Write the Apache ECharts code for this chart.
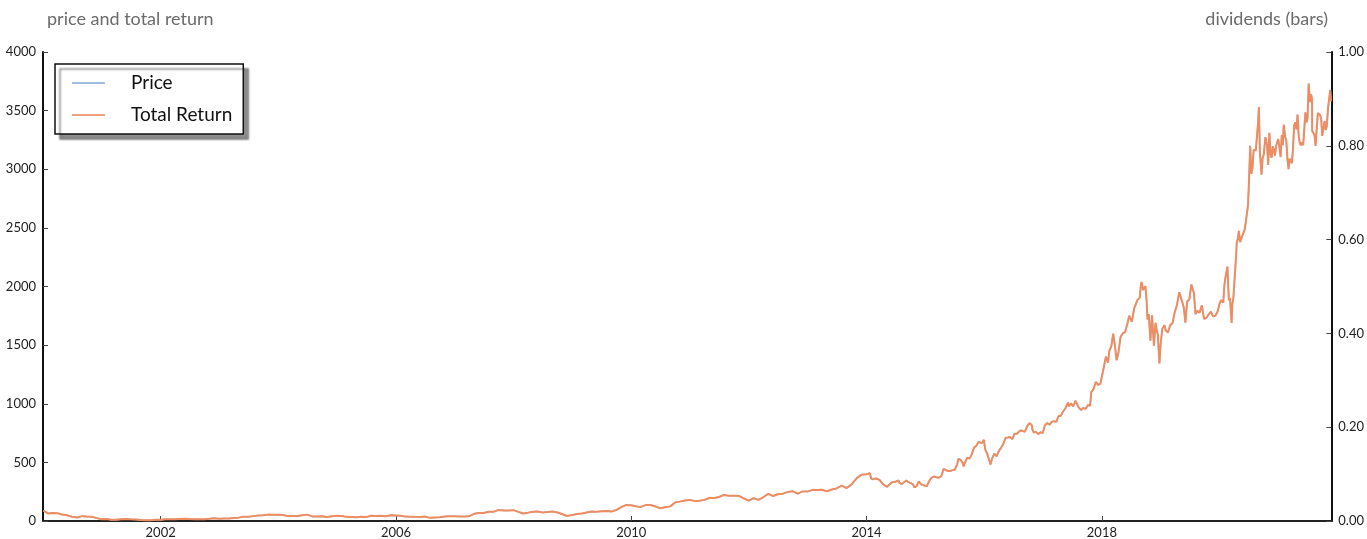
<!DOCTYPE html>
<html>
<head>
<meta charset="utf-8">
<script src="https://cdn.jsdelivr.net/npm/echarts@6/dist/echarts.min.js"></script>
<style>
html,body{margin:0;padding:0;background:#fff;}
#chart{width:1367px;height:539px;}
</style>
</head>
<body>
<div id="chart"></div>
<script>
// ---- Data ----
const seriesNames = ["Price", "Total Return"];
const xTickYears = [2002, 2006, 2010, 2014, 2018];
const leftTicks = [0, 500, 1000, 1500, 2000, 2500, 3000, 3500, 4000];
const rightTicks = [0.00, 0.20, 0.40, 0.60, 0.80, 1.00];
const dividends = []; // no dividend bars are drawn in the reference

const price2000_2006 = [
["2000-01-03",89.4],["2000-01-14",73],["2000-01-31",64.6],["2000-02-29",68.9],["2000-03-10",73],["2000-03-31",67],["2000-04-28",55.2],["2000-05-31",48.3],["2000-06-30",36.3],["2000-07-31",30.1],["2000-08-31",41.5],["2000-09-29",38.4],["2000-10-31",36.6],["2000-11-30",24.7],["2000-12-29",15.6],
["2001-01-31",17.3],["2001-02-28",10.2],["2001-03-30",10.2],["2001-04-30",15.8],["2001-05-31",16.7],["2001-06-29",14.2],["2001-07-31",12.5],["2001-08-31",8.9],["2001-09-28",6.0],["2001-10-31",7.0],["2001-11-30",11.3],["2001-12-31",10.8],
["2002-01-31",14.2],["2002-02-28",14.1],["2002-03-29",14.3],["2002-04-30",16.7],["2002-05-31",18.2],["2002-06-28",16.3],["2002-07-31",14.5],["2002-08-30",14.9],["2002-09-30",15.9],["2002-10-31",19.4],["2002-11-29",23.4],["2002-12-31",18.9],
["2003-01-31",21.9],["2003-02-28",22.0],["2003-03-31",26.0],["2003-04-30",28.7],["2003-05-30",35.9],["2003-06-30",36.3],["2003-07-31",41.6],["2003-08-29",46.3],["2003-09-30",48.4],["2003-10-31",54.4],["2003-11-28",54.0],["2003-12-31",52.6],
["2004-01-30",50.4],["2004-02-27",43.0],["2004-03-31",43.3],["2004-04-30",43.6],["2004-05-28",48.5],["2004-06-30",54.4],["2004-07-30",38.9],["2004-08-31",38.1],["2004-09-30",40.9],["2004-10-29",34.1],["2004-11-30",39.7],["2004-12-31",44.3],
["2005-01-31",43.2],["2005-02-28",35.2],["2005-03-31",34.3],["2005-04-29",32.4],["2005-05-31",35.5],["2005-06-30",33.1],["2005-07-29",45.2],["2005-08-31",42.7],["2005-09-30",45.3],["2005-10-31",39.9],["2005-11-30",48.5],["2005-12-30",47.2],
["2006-01-31",44.8],["2006-02-28",37.4],["2006-03-31",36.5],["2006-04-28",35.2],["2006-05-31",34.6],["2006-06-30",38.7],["2006-07-31",26.9],["2006-08-31",30.8],["2006-09-29",32.1],["2006-10-31",38.1],["2006-11-30",40.3],["2006-12-29",39.5]
];

const price2007_2013 = [
["2007-01-31",37.7],["2007-02-28",39.1],["2007-03-30",39.8],["2007-04-30",61.3],["2007-05-31",69.1],["2007-06-29",68.4],["2007-07-31",78.5],["2007-08-31",79.9],["2007-09-28",93.2],["2007-10-31",89.2],["2007-11-30",90.6],["2007-12-31",92.6],
["2008-01-31",77.7],["2008-02-29",64.5],["2008-03-31",71.3],["2008-04-30",78.6],["2008-05-30",81.6],["2008-06-30",73.3],["2008-07-31",76.3],["2008-08-29",80.8],["2008-09-30",72.8],["2008-10-31",57.2],["2008-11-28",42.7],["2008-12-31",51.3],
["2009-01-30",58.8],["2009-02-27",64.8],["2009-03-31",73.4],["2009-04-30",80.5],["2009-05-29",78.0],["2009-06-30",83.7],["2009-07-31",85.8],["2009-08-31",81.2],["2009-09-30",93.4],["2009-10-30",118.8],["2009-11-30",135.9],["2009-12-31",134.5],
["2010-01-29",125.4],["2010-02-26",118.4],["2010-03-31",135.8],["2010-04-30",137.1],["2010-05-28",125.5],["2010-06-30",109.3],["2010-07-30",117.9],["2010-08-31",124.8],["2010-09-30",157.1],["2010-10-29",165.2],["2010-11-30",175.4],["2010-12-31",180.0],
["2011-01-31",169.6],["2011-02-28",173.3],["2011-03-31",180.1],["2011-04-29",195.8],["2011-05-31",196.7],["2011-06-30",204.5],["2011-07-29",222.5],["2011-08-31",215.2],["2011-09-30",216.2],["2011-10-31",213.5],["2011-11-30",192.3],["2011-12-30",173.1],
["2012-01-31",194.4],["2012-02-29",179.7],["2012-03-30",202.5],["2012-04-30",231.9],["2012-05-31",212.9],["2012-06-29",228.4],["2012-07-31",233.3],["2012-08-31",248.3],["2012-09-28",254.3],["2012-10-31",232.9],["2012-11-30",252.1],["2012-12-31",250.9],
["2013-01-31",265.5],["2013-02-28",264.3],["2013-03-28",266.5],["2013-04-30",253.8],["2013-05-31",269.2],["2013-06-28",277.7],["2013-07-31",301.2],["2013-08-30",281.0],["2013-09-30",312.6],["2013-10-31",364.0],["2013-11-29",393.6],["2013-12-31",398.8]
];

const price2014_2017 = [
["2014-01-21",407],["2014-01-31",359],["2014-02-14",357],["2014-02-28",362],["2014-03-07",372],["2014-03-21",352],["2014-03-31",336],["2014-04-11",317],["2014-04-25",303],["2014-05-09",292],["2014-05-23",312],["2014-06-06",329],["2014-06-20",332],["2014-07-03",337],["2014-07-18",346],["2014-07-25",324],["2014-08-08",316],["2014-08-22",331],["2014-09-05",346],["2014-09-19",331],["2014-10-03",323],["2014-10-17",311],["2014-10-24",287],["2014-11-07",296],["2014-11-21",338],["2014-12-05",312],["2014-12-19",306],["2014-12-31",310],
["2015-01-09",296],["2015-01-16",290],["2015-01-30",354],["2015-02-13",374],["2015-02-27",380],["2015-03-13",370],["2015-03-27",370],["2015-04-10",382],["2015-04-24",445],["2015-05-08",433],["2015-05-22",427],["2015-06-05",426],["2015-06-19",434],["2015-07-02",437],["2015-07-17",483],["2015-07-24",529],["2015-08-07",522],["2015-08-21",494],["2015-08-25",466],["2015-09-04",499],["2015-09-18",540],["2015-10-02",532],["2015-10-16",570],["2015-10-23",599],["2015-10-30",626],["2015-11-13",642],["2015-11-27",674],["2015-12-04",672],["2015-12-18",664],["2015-12-29",693],["2015-12-31",676],
["2016-01-08",607],["2016-01-20",571],["2016-01-29",587],["2016-02-05",502],["2016-02-09",482],["2016-02-19",534],["2016-03-04",575],["2016-03-18",552],["2016-03-31",594],["2016-04-15",625],["2016-04-29",659],["2016-05-13",710],["2016-05-27",712],["2016-06-10",717],["2016-06-24",698],["2016-07-08",745],["2016-07-22",744],["2016-07-29",758],["2016-08-12",772],["2016-08-26",769],["2016-09-09",760],["2016-09-23",805],["2016-10-07",834],["2016-10-21",822],["2016-10-28",776],["2016-11-04",755],["2016-11-18",760],["2016-12-02",741],["2016-12-16",757],["2016-12-30",750],
["2017-01-13",817],["2017-01-27",835],["2017-02-10",821],["2017-02-24",845],["2017-03-10",852],["2017-03-24",845],["2017-04-07",894],["2017-04-21",898],["2017-05-05",934],["2017-05-19",959],["2017-06-05",1011],["2017-06-09",978],["2017-06-23",1003],["2017-07-07",978],["2017-07-21",1025],["2017-07-28",1020],["2017-08-11",967],["2017-08-25",946],["2017-09-08",965],["2017-09-22",956],["2017-10-06",989],["2017-10-20",983],["2017-10-27",1100],["2017-11-10",1125],["2017-11-24",1186],["2017-12-08",1162],["2017-12-22",1168],["2017-12-29",1169]
];

const price2018_2021 = [
["2018-01-12",1305],["2018-01-26",1402],["2018-02-08",1350],["2018-02-16",1448],["2018-03-01",1493],["2018-03-12",1598],["2018-03-23",1495],["2018-04-02",1371],["2018-04-13",1430],["2018-04-27",1572],["2018-05-11",1602],["2018-05-25",1610],["2018-06-08",1683],["2018-06-20",1750],["2018-07-06",1699],["2018-07-20",1813],["2018-07-27",1818],["2018-08-10",1886],["2018-08-24",1905],["2018-08-31",2012],["2018-09-04",2039],["2018-09-14",1970],["2018-09-28",2003],["2018-10-05",1889],["2018-10-11",1719],["2018-10-19",1764],["2018-10-29",1538],["2018-11-08",1755],["2018-11-20",1495],["2018-11-30",1690],["2018-12-07",1630],["2018-12-14",1591],["2018-12-24",1343],["2018-12-31",1502],
["2019-01-11",1640],["2019-01-25",1670],["2019-02-01",1626],["2019-02-15",1607],["2019-03-01",1671],["2019-03-15",1687],["2019-03-29",1781],["2019-04-12",1843],["2019-04-26",1951],["2019-05-10",1889],["2019-05-24",1823],["2019-06-03",1692],["2019-06-14",1870],["2019-06-28",1893],["2019-07-10",2017],["2019-07-26",1944],["2019-08-05",1765],["2019-08-16",1792],["2019-08-30",1776],["2019-09-13",1839],["2019-09-27",1725],["2019-10-11",1731],["2019-10-25",1761],["2019-11-08",1785],["2019-11-22",1745],["2019-12-06",1751],["2019-12-20",1787],["2019-12-31",1847],
["2020-01-10",1883],["2020-01-24",1862],["2020-01-31",2009],["2020-02-07",2079],["2020-02-19",2170],["2020-02-28",1883],["2020-03-06",1901],["2020-03-16",1689],["2020-03-20",1846],["2020-03-27",1901],["2020-04-03",1907],["2020-04-14",2283],["2020-04-17",2375],["2020-04-24",2410],["2020-04-30",2474],["2020-05-08",2379],["2020-05-22",2436],["2020-06-05",2483],["2020-06-12",2545],["2020-06-26",2692],["2020-07-02",2890],["2020-07-10",3200],["2020-07-17",2961],["2020-07-24",3008],["2020-07-31",3164],["2020-08-07",3167],["2020-08-14",3162],["2020-08-21",3284],["2020-08-28",3401],["2020-09-02",3531],["2020-09-08",3149],["2020-09-18",2954],["2020-09-25",3095],["2020-10-02",3125],["2020-10-12",3273],["2020-10-16",3272],["2020-10-23",3204],["2020-10-30",3036],["2020-11-06",3311],["2020-11-13",3128],["2020-11-20",3099],["2020-11-27",3195],["2020-12-04",3162],["2020-12-11",3116],["2020-12-18",3201],["2020-12-31",3257],
["2021-01-08",3182],["2021-01-15",3104],["2021-01-22",3292],["2021-01-29",3206],["2021-02-03",3380],["2021-02-12",3277],["2021-02-19",3250],["2021-02-26",3092],["2021-03-05",3001],["2021-03-12",3089],["2021-03-19",3075],["2021-03-26",3052],["2021-04-01",3161],["2021-04-09",3373],["2021-04-16",3400],["2021-04-23",3340],["2021-04-30",3467],["2021-05-07",3291],["2021-05-14",3222],["2021-05-21",3204],["2021-05-28",3230],["2021-06-04",3206],["2021-06-11",3346],["2021-06-18",3486],["2021-06-25",3401],["2021-07-01",3433],["2021-07-08",3731],["2021-07-16",3573],["2021-07-23",3638],["2021-07-29",3599],["2021-07-30",3327],["2021-08-06",3344],["2021-08-13",3293],["2021-08-20",3199],["2021-08-27",3349],["2021-09-03",3479],["2021-09-10",3469],["2021-09-17",3463],["2021-09-24",3425],["2021-09-30",3285],["2021-10-08",3289],["2021-10-15",3410],["2021-10-22",3335],["2021-10-29",3372],["2021-11-05",3519],["2021-11-12",3525],["2021-11-19",3676],["2021-11-24",3580]
];

// ---- Build chart data ----
function toYear(s){
  const d = Date.parse(s + "T00:00:00Z");
  const y = parseInt(s.slice(0,4),10);
  const a = Date.UTC(y,0,1), b = Date.UTC(y+1,0,1);
  return y + (d - a) / (b - a);
}
const priceAll = [].concat(price2000_2006, price2007_2013, price2014_2017, price2018_2021);
const priceData = priceAll.map(p => [toYear(p[0]), p[1]]);
// Total return = price with reinvested dividends; no dividends -> same as price
const totalReturnData = priceAll.map(p => [toYear(p[0]), p[1]]);

const FONT = "Lato, 'Open Sans', sans-serif";
const chart = echarts.init(document.getElementById('chart'), null, {renderer:'canvas'});
chart.setOption({
  animation: false,
  backgroundColor: '#ffffff',
  textStyle: {fontFamily: FONT},
  title: [
    {text: 'price and total return', left: 42, top: 5, textStyle:{fontFamily: FONT, fontSize: 18, fontWeight: 'normal', color: '#6b6b6b'}},
    {text: 'dividends (bars)', right: 34, top: 5, textStyle:{fontFamily: FONT, fontSize: 18, fontWeight: 'normal', color: '#6b6b6b'}}
  ],
  legend: {
    left: 55, top: 64, orient: 'vertical',
    padding: [9, 11, 9, 17], itemGap: 12, itemWidth: 33, itemHeight: 2, icon: 'rect',
    borderColor: '#111', borderWidth: 1.5, borderRadius: 0, backgroundColor: '#fff',
    shadowColor: 'rgba(0,0,0,0.45)', shadowOffsetX: 5, shadowOffsetY: 5, shadowBlur: 2,
    textStyle: {fontFamily: FONT, fontSize: 19, lineHeight: 20, color: '#111', padding: [0,0,0,21]},
    data: seriesNames
  },
  grid: {left: 43, right: 33, top: 52, bottom: 18, containLabel: false},
  xAxis: {
    type: 'value', min: 2000, max: 2021.9,
    axisLine: {show: true, lineStyle: {color: '#222', width: 2}},
    axisTick: {show: true, inside: true, length: 5, lineStyle: {color: '#444'}, customValues: xTickYears},
    axisLabel: {color: '#222', fontSize: 13, margin: 5, customValues: xTickYears, formatter: v => String(Math.round(v))},
    splitLine: {show: false}
  },
  yAxis: [
    {
      type: 'value', min: leftTicks[0], max: leftTicks[leftTicks.length-1], interval: 500,
      axisLine: {show: true, lineStyle: {color: '#111', width: 2}},
      axisTick: {show: true, inside: true, length: 5, lineStyle: {color: '#444'}},
      axisLabel: {color: '#222', fontSize: 13, margin: 7, formatter: v => String(v)},
      splitLine: {show: false}
    },
    {
      type: 'value', position: 'right', min: rightTicks[0], max: rightTicks[rightTicks.length-1], interval: 0.2,
      axisLine: {show: true, lineStyle: {color: '#111', width: 2}},
      axisTick: {show: true, inside: true, length: 5, lineStyle: {color: '#444'}},
      axisLabel: {color: '#222', fontSize: 13, margin: 7, formatter: v => v.toFixed(2)},
      splitLine: {show: false}
    }
  ],
  series: [
    {name: seriesNames[0], type: 'line', data: priceData, showSymbol: false, symbol: 'none',
     color: '#9dbde3', lineStyle: {width: 1.5, color: '#9dbde3'}, z: 2},
    {name: seriesNames[1], type: 'line', data: totalReturnData, showSymbol: false, symbol: 'none',
     color: '#f0a080', lineStyle: {width: 2, color: '#ef8d62'}, z: 3},
    {name: 'Dividends', type: 'bar', yAxisIndex: 1, data: dividends, itemStyle: {color: '#bbb'}}
  ]
});
</script>
</body>
</html>
